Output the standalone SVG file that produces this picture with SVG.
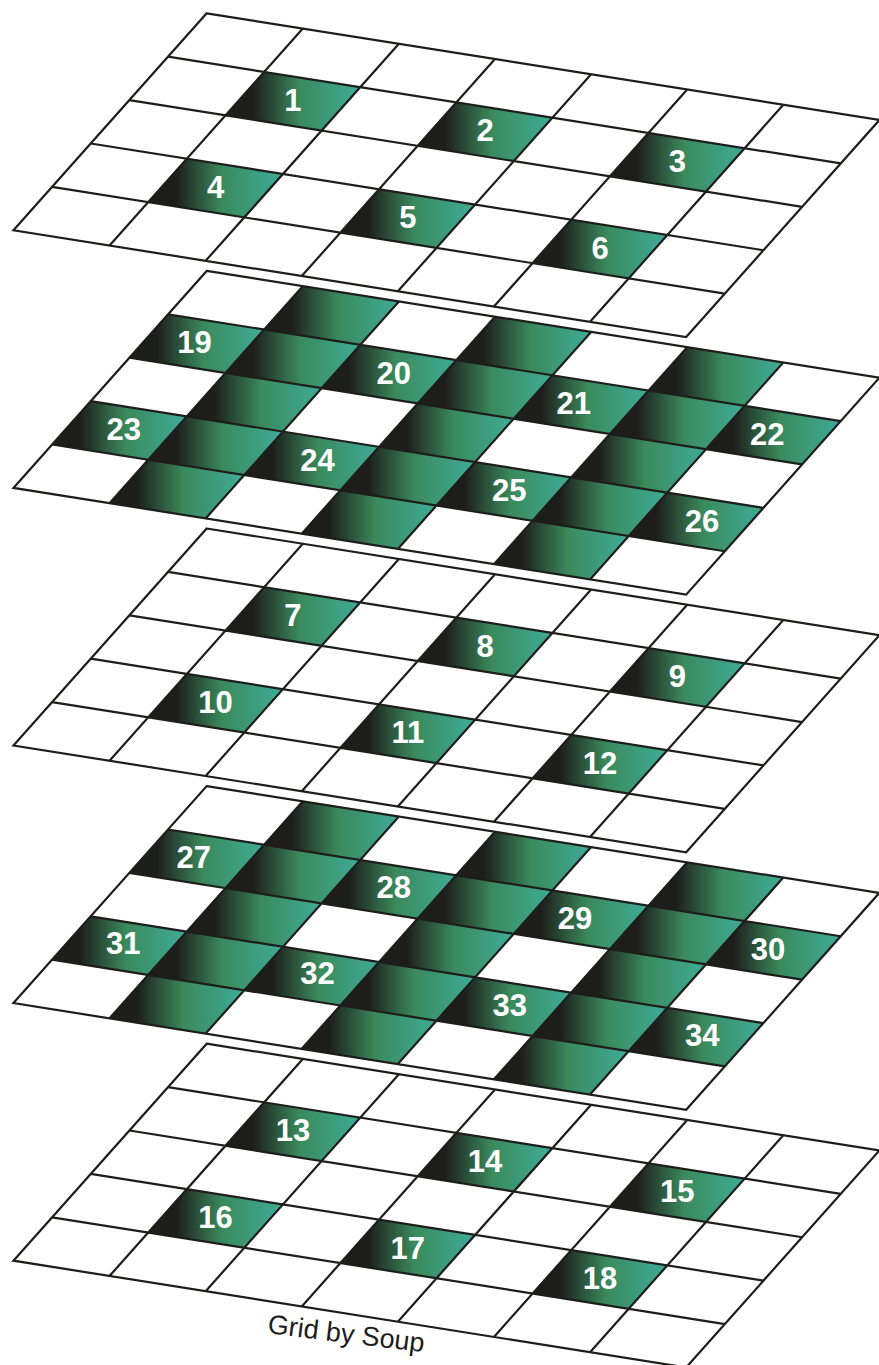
<svg xmlns="http://www.w3.org/2000/svg" xmlns:xlink="http://www.w3.org/1999/xlink" width="879" height="1365" viewBox="0 0 879 1365">
<style>
.ln{fill:none;stroke:#1d1d1b;stroke-width:2.2;stroke-linejoin:miter;stroke-miterlimit:10}
.bg{fill:#ffffff}
.cell{fill:url(#g);stroke:none}
.lbl{font-family:"Liberation Sans",Arial,sans-serif;font-weight:bold;font-size:31px;fill:#ffffff;text-anchor:middle}
.cap{font-family:"Liberation Sans",Arial,sans-serif;font-size:27px;fill:#1d1d1b}
</style>
<defs>
<linearGradient id="g" x1="0" y1="0" x2="1" y2="0">
<stop offset="0" stop-color="#1d1d1b"/>
<stop offset="0.2" stop-color="#1d1d1b"/>
<stop offset="0.55" stop-color="#3a8a5c"/>
<stop offset="1" stop-color="#3fac98"/>
</linearGradient>
<polygon id="frame" points="0,0 672.7,106.75 479.45,323.75 -193.25,217"/>
<path id="lines" class="ln" d="M0,0 L672.7,106.75 L479.45,323.75 L-193.25,217 Z M-38.65,43.4 L634.05,150.15 M-77.3,86.8 L595.4,193.55 M-115.95,130.2 L556.75,236.95 M-154.6,173.6 L518.1,280.35 M96.1,15.25 L-97.15,232.25 M192.2,30.5 L-1.05,247.5 M288.3,45.75 L95.05,262.75 M384.4,61 L191.15,278 M480.5,76.25 L287.25,293.25 M576.6,91.5 L383.35,308.5"/>
<g id="layA">
<use href="#frame" xlink:href="#frame" class="bg"/>
<polygon class="cell" points="57.45,58.65 153.55,73.9 114.9,117.3 18.8,102.05"/>
<polygon class="cell" points="249.65,89.15 345.75,104.4 307.1,147.8 211,132.55"/>
<polygon class="cell" points="441.85,119.65 537.95,134.9 499.3,178.3 403.2,163.05"/>
<polygon class="cell" points="-19.85,145.45 76.25,160.7 37.6,204.1 -58.5,188.85"/>
<polygon class="cell" points="172.35,175.95 268.45,191.2 229.8,234.6 133.7,219.35"/>
<polygon class="cell" points="364.55,206.45 460.65,221.7 422,265.1 325.9,249.85"/>
<use href="#lines" xlink:href="#lines"/>
</g>
<g id="layB">
<use href="#frame" xlink:href="#frame" class="bg"/>
<polygon class="cell" points="96.1,15.25 192.2,30.5 153.55,73.9 57.45,58.65"/>
<polygon class="cell" points="288.3,45.75 384.4,61 345.75,104.4 249.65,89.15"/>
<polygon class="cell" points="480.5,76.25 576.6,91.5 537.95,134.9 441.85,119.65"/>
<polygon class="cell" points="-38.65,43.4 57.45,58.65 18.8,102.05 -77.3,86.8"/>
<polygon class="cell" points="57.45,58.65 153.55,73.9 114.9,117.3 18.8,102.05"/>
<polygon class="cell" points="153.55,73.9 249.65,89.15 211,132.55 114.9,117.3"/>
<polygon class="cell" points="249.65,89.15 345.75,104.4 307.1,147.8 211,132.55"/>
<polygon class="cell" points="345.75,104.4 441.85,119.65 403.2,163.05 307.1,147.8"/>
<polygon class="cell" points="441.85,119.65 537.95,134.9 499.3,178.3 403.2,163.05"/>
<polygon class="cell" points="537.95,134.9 634.05,150.15 595.4,193.55 499.3,178.3"/>
<polygon class="cell" points="18.8,102.05 114.9,117.3 76.25,160.7 -19.85,145.45"/>
<polygon class="cell" points="211,132.55 307.1,147.8 268.45,191.2 172.35,175.95"/>
<polygon class="cell" points="403.2,163.05 499.3,178.3 460.65,221.7 364.55,206.45"/>
<polygon class="cell" points="-115.95,130.2 -19.85,145.45 -58.5,188.85 -154.6,173.6"/>
<polygon class="cell" points="-19.85,145.45 76.25,160.7 37.6,204.1 -58.5,188.85"/>
<polygon class="cell" points="76.25,160.7 172.35,175.95 133.7,219.35 37.6,204.1"/>
<polygon class="cell" points="172.35,175.95 268.45,191.2 229.8,234.6 133.7,219.35"/>
<polygon class="cell" points="268.45,191.2 364.55,206.45 325.9,249.85 229.8,234.6"/>
<polygon class="cell" points="364.55,206.45 460.65,221.7 422,265.1 325.9,249.85"/>
<polygon class="cell" points="460.65,221.7 556.75,236.95 518.1,280.35 422,265.1"/>
<polygon class="cell" points="-58.5,188.85 37.6,204.1 -1.05,247.5 -97.15,232.25"/>
<polygon class="cell" points="133.7,219.35 229.8,234.6 191.15,278 95.05,262.75"/>
<polygon class="cell" points="325.9,249.85 422,265.1 383.35,308.5 287.25,293.25"/>
<use href="#lines" xlink:href="#lines"/>
</g>
</defs>

<g id="layer1">
<use href="#layA" xlink:href="#layA" transform="translate(206.7,13.3)"/>
<text class="lbl" x="292.9" y="110.9">1</text>
<text class="lbl" x="485.1" y="141.4">2</text>
<text class="lbl" x="677.3" y="171.9">3</text>
<text class="lbl" x="215.6" y="197.7">4</text>
<text class="lbl" x="407.8" y="228.2">5</text>
<text class="lbl" x="600" y="258.7">6</text>
</g>

<g id="layer2">
<use href="#layB" xlink:href="#layB" transform="translate(206.7,270.9)"/>
<text class="lbl" x="194.5" y="353.3">19</text>
<text class="lbl" x="393.7" y="383.9">20</text>
<text class="lbl" x="573.7" y="414.4">21</text>
<text class="lbl" x="767.3" y="444.8">22</text>
<text class="lbl" x="123.7" y="440.3">23</text>
<text class="lbl" x="317.5" y="470.6">24</text>
<text class="lbl" x="509.3" y="500.6">25</text>
<text class="lbl" x="702" y="531.9">26</text>
</g>

<g id="layer3">
<use href="#layA" xlink:href="#layA" transform="translate(206.7,528.5)"/>
<text class="lbl" x="292.9" y="626.1">7</text>
<text class="lbl" x="485.1" y="656.6">8</text>
<text class="lbl" x="677.3" y="687.1">9</text>
<text class="lbl" x="215.6" y="712.9">10</text>
<text class="lbl" x="407.8" y="743.4">11</text>
<text class="lbl" x="600" y="773.9">12</text>
</g>

<g id="layer4">
<use href="#layB" xlink:href="#layB" transform="translate(206.7,786.1)"/>
<text class="lbl" x="193.7" y="867.8">27</text>
<text class="lbl" x="393.7" y="898.3">28</text>
<text class="lbl" x="575" y="929.4">29</text>
<text class="lbl" x="768" y="960.1">30</text>
<text class="lbl" x="123.3" y="954.4">31</text>
<text class="lbl" x="317.5" y="984.4">32</text>
<text class="lbl" x="509.7" y="1016.1">33</text>
<text class="lbl" x="702.3" y="1046.1">34</text>
</g>

<g id="layer5">
<use href="#layA" xlink:href="#layA" transform="translate(206.7,1043.7)"/>
<text class="lbl" x="292.9" y="1141.3">13</text>
<text class="lbl" x="485.1" y="1171.8">14</text>
<text class="lbl" x="677.3" y="1202.3">15</text>
<text class="lbl" x="215.6" y="1228.1">16</text>
<text class="lbl" x="407.8" y="1258.6">17</text>
<text class="lbl" x="600" y="1289.1">18</text>
</g>

<g id="caption">
<text class="cap" x="267" y="1333" transform="rotate(7 267 1333)">Grid by Soup</text>
</g>
<g id="connectors"/>
</svg>
